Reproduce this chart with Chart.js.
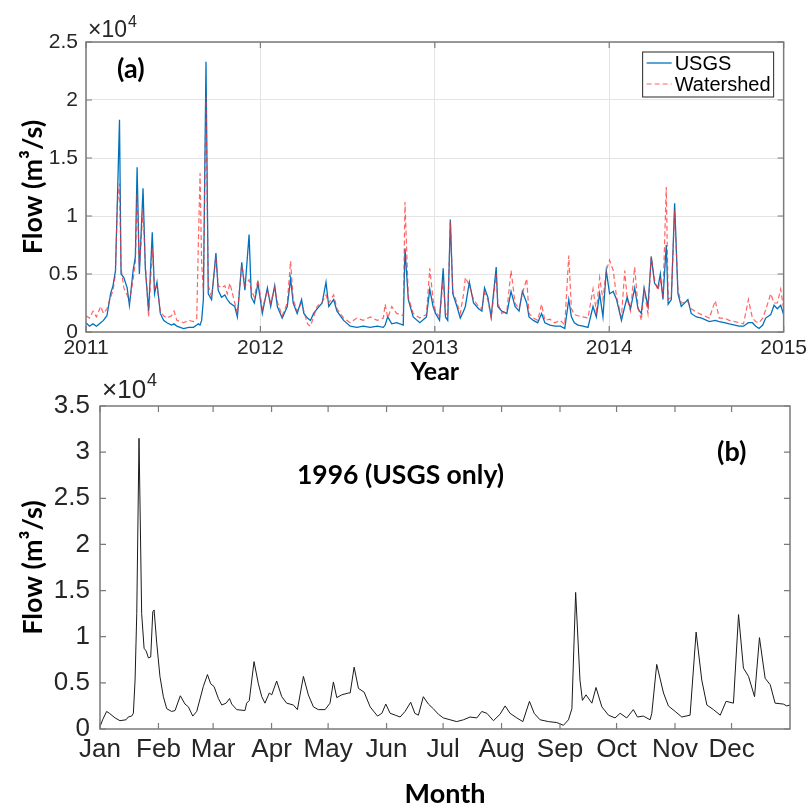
<!DOCTYPE html>
<html>
<head>
<meta charset="utf-8">
<script src="https://cdn.jsdelivr.net/npm/chart.js@4.4.0/dist/chart.umd.min.js"></script>
<style>
  html, body { margin: 0; padding: 0; background: #fff; }
  #wrap { position: relative; width: 811px; height: 810px; }
  canvas { position: absolute; left: 0; }
  #top { top: 0; width: 811px; height: 392px; }
  #bottom { top: 370px; width: 811px; height: 440px; }
</style>
</head>
<body>
<div id="wrap">
  <canvas id="top" width="811" height="392"></canvas>
  <canvas id="bottom" width="811" height="440"></canvas>
</div>
<script>
// ---- panel (a): 2011-2015, decimal year vs flow (m3/s)
var flowDates = [
  2011.000, 2011.020, 2011.040, 2011.060, 2011.084, 2011.100, 2011.120, 2011.141, 2011.155, 2011.169,
  2011.179, 2011.192, 2011.201, 2011.217, 2011.236, 2011.249, 2011.270, 2011.283, 2011.293, 2011.306,
  2011.327, 2011.340, 2011.359, 2011.380, 2011.393, 2011.407, 2011.426, 2011.445, 2011.464, 2011.490,
  2011.505, 2011.521, 2011.540, 2011.559, 2011.590, 2011.616, 2011.635, 2011.644, 2011.654, 2011.663,
  2011.673, 2011.688, 2011.701, 2011.720, 2011.745, 2011.758, 2011.777, 2011.796, 2011.810, 2011.825,
  2011.853, 2011.868, 2011.893, 2011.911, 2011.935, 2011.948, 2011.965, 2011.986,
  2012.011, 2012.040, 2012.059, 2012.082, 2012.097, 2012.125, 2012.154, 2012.173, 2012.188, 2012.211,
  2012.236, 2012.249, 2012.270, 2012.287, 2012.305, 2012.325, 2012.354, 2012.376, 2012.392, 2012.420,
  2012.439, 2012.477, 2012.515, 2012.553, 2012.590, 2012.629, 2012.670, 2012.705, 2012.715, 2012.730,
  2012.753, 2012.781, 2012.819, 2012.829, 2012.848, 2012.876, 2012.914, 2012.952, 2012.971, 2012.990,
  2013.004, 2013.027, 2013.048, 2013.061, 2013.074, 2013.089, 2013.103, 2013.127, 2013.146, 2013.165,
  2013.175, 2013.198, 2013.222, 2013.251, 2013.270, 2013.285, 2013.304, 2013.323, 2013.352, 2013.361,
  2013.384, 2013.413, 2013.437, 2013.460, 2013.483, 2013.502, 2013.527, 2013.540, 2013.565, 2013.590,
  2013.612, 2013.631, 2013.660, 2013.688, 2013.720, 2013.745, 2013.768, 2013.783, 2013.800, 2013.821,
  2013.850, 2013.878, 2013.907, 2013.926, 2013.945, 2013.964, 2013.983,
  2014.002, 2014.023, 2014.042, 2014.070, 2014.089, 2014.103, 2014.122, 2014.146, 2014.165, 2014.184,
  2014.200, 2014.222, 2014.241, 2014.260, 2014.279, 2014.293, 2014.308, 2014.327, 2014.338, 2014.356,
  2014.375, 2014.394, 2014.413, 2014.451, 2014.470, 2014.500, 2014.530, 2014.574, 2014.608, 2014.631,
  2014.660, 2014.688, 2014.720, 2014.745, 2014.770, 2014.798, 2014.821, 2014.840, 2014.859, 2014.880,
  2014.897, 2014.926, 2014.945, 2014.964, 2014.983, 2015.000
];

var usgsFlow = [
  800, 500, 700, 500, 800, 1000, 1400, 3300, 4000, 5300,
  10800, 18300, 5000, 4700, 3800, 2300, 5300, 6500, 14200, 5000,
  12400, 5500, 1800, 8600, 3300, 4300, 1600, 1000, 800, 600,
  700, 500, 400, 300, 400, 400, 600, 700, 600, 1000,
  2800, 23300, 3300, 2800, 6800, 3600, 3000, 3200, 2800, 2500,
  2200, 1300, 6000, 3600, 8400, 3000, 2500, 4200,
  1600, 3800, 2200, 4000, 2200, 1200, 2200, 4600, 2500, 1600,
  2800, 1600, 1200, 1000, 1600, 2000, 2500, 4300, 2200, 2800,
  1800, 1000, 500, 400, 500, 400, 500, 400, 600, 1300,
  700, 800, 600, 7200, 2800, 1300, 800, 1300, 3700, 2200,
  1600, 1000, 5500, 1300, 1000, 9700, 3300, 2200, 1200, 1800,
  2200, 4300, 2500, 2000, 1800, 3800, 3000, 1300, 5600, 2200,
  1800, 1600, 3500, 2200, 1800, 3500, 2500, 1300, 1000, 800,
  1600, 800, 600, 500, 500, 300, 2800, 1300, 800, 600,
  500, 400, 2200, 1300, 3300, 1300, 5300,
  3300, 3500, 2800, 1000, 2200, 3000, 2000, 3800, 2000, 1600,
  3800, 2200, 6500, 4200, 3800, 5000, 2800, 7500, 2400, 2800,
  11100, 3300, 2200, 2800, 1600, 1300, 1200, 900, 1000, 900,
  800, 700, 600, 500, 500, 800, 800, 500, 300, 600,
  1200, 1500, 2300, 2000, 2300, 1500
];

var watershedFlow = [
  1400, 1200, 1800, 1300, 2200, 1600, 2000, 3000, 3600, 5000,
  10800, 12800, 5500, 3800, 3200, 2600, 4500, 6000, 12000, 5500,
  10500, 6000, 1300, 7200, 3600, 4000, 1800, 1400, 1200, 1400,
  1800, 1000, 900, 800, 1000, 900, 1200, 7500, 13700, 6000,
  3500, 20300, 4000, 3000, 6500, 4000, 3800, 4000, 3300, 4200,
  2500, 1600, 5800, 4000, 4500, 3600, 3000, 4500,
  2000, 3600, 2500, 3800, 2600, 1400, 2500, 6100, 2800, 1800,
  2500, 1800, 700, 500, 1300, 2200, 2600, 3200, 2500, 3200,
  2000, 1200, 800, 1200, 1000, 1300, 1000, 1200, 2400, 1200,
  2200, 1600, 1400, 11200, 3000, 1600, 1200, 1500, 5500, 2800,
  1800, 1300, 4500, 1600, 1400, 9500, 3500, 2500, 1600, 3300,
  4700, 4000, 2800, 2200, 2000, 3400, 2800, 1200, 5000, 2500,
  1600, 1800, 5300, 2500, 2000, 3300, 4600, 1600, 1200, 1000,
  2400, 1000, 1100, 800, 1000, 600, 6600, 2000, 1500, 1400,
  1300, 1200, 3700, 1800, 4700, 2800, 5300,
  6200, 5300, 3000, 1300, 5300, 2800, 1800, 5600, 2200, 1000,
  3600, 1600, 6500, 4500, 3600, 4500, 3000, 12500, 2800, 3000,
  10500, 3600, 2500, 2600, 2000, 1700, 1500, 1200, 2700, 1200,
  1200, 1000, 900, 800, 700, 2800, 1200, 900, 800, 1200,
  1900, 3300, 2500, 2500, 3700, 2000
];

// ---- panel (b): 1996, day of year vs flow (m3/s)
var days1996 = [
  0, 1.4, 3.5, 5, 8, 10.6, 13.8, 15, 16.8, 17.7,
  18.6, 19.5, 20.7, 22.1, 23.4, 24.4, 25.7, 26.9, 28, 28.7,
  30.1, 31.8, 33.6, 35.4, 38, 39.8, 42.6, 45.1, 46.9, 49.2,
  51.3, 54.8, 57, 58.7, 60.5, 62.8, 64.6, 66.9, 68.7, 69.9,
  72.5, 76.9, 77.8, 79.2, 81.7, 84, 85.8, 87.5, 89.8, 91.1,
  93.7, 96.4, 99, 102.6, 104.7, 107.9, 110.5, 113.2, 115.8, 119.4,
  122, 123.8, 125.6, 128.2, 131.8, 132.7, 134.8, 137.1, 140.1, 143.3,
  147.2, 149.5, 151.6, 153.9, 156.6, 159.2, 161.8, 164.8, 167, 168.9,
  171.5, 174.2, 176.8, 179.5, 182.1, 185.7, 189.2, 192.8, 196.3, 199.9,
  202.5, 205.2, 208.7, 212.2, 214.9, 217.5, 221.1, 224.3, 227.8, 230.3,
  233.4, 237.9, 242.3, 245.8, 248.5, 250.3, 252.3, 254.6, 255.9, 257.8,
  260.9, 263.1, 266.2, 269.7, 273.2, 275.9, 279.4, 282.9, 285.1, 288.2,
  291.8, 292.7, 295.3, 298.9, 301.5, 305.1, 308.6, 313, 316.2, 319.2,
  321.9, 325.4, 329, 332.1, 336, 338.7, 341.3, 344, 347.2, 349.8,
  352.8, 355.5, 358.1, 362.5, 364.3, 366
];

var flow1996 = [
  250, 1000, 1900, 1700, 1200, 900, 1000, 1300, 1400, 1700,
  5300, 12500, 31500, 12500, 8700, 8500, 7700, 7800, 12700, 12900,
  9300, 5700, 3500, 2200, 1900, 2000, 3600, 2700, 2400, 1400,
  1900, 4600, 5900, 4900, 4600, 3300, 2600, 2800, 3300, 2700,
  2100, 2000, 2800, 3100, 7300, 4900, 3500, 2800, 3900, 3700,
  5200, 3500, 2800, 2600, 2100, 5700, 3700, 2400, 2100, 2100,
  2800, 5100, 3400, 3700, 3900, 3900, 6700, 4400, 4000, 2400,
  1400, 1700, 2700, 1700, 1500, 1300, 1900, 2900, 1700, 1500,
  3500, 2700, 2200, 1600, 1200, 1000, 800, 1000, 1300, 1200,
  1900, 1700, 900, 1600, 2500, 1700, 1200, 800, 3000, 1700,
  1000, 800, 700, 400, 1000, 2200, 14800, 5300, 3100, 3700,
  2800, 4500, 2400, 1500, 1200, 1700, 1200, 2100, 1300, 1400,
  1000, 1700, 7000, 3900, 2500, 1900, 1300, 1500, 10500, 5300,
  2600, 2100, 1500, 3000, 2800, 12400, 6600, 5700, 3500, 9900,
  5500, 4800, 2800, 2700, 2500, 2600
];

var monthStarts = [0, 31, 60, 91, 121, 152, 182, 213, 244, 274, 305, 335];
var monthNames = ["Jan", "Feb", "Mar", "Apr", "May", "Jun", "Jul", "Aug", "Sep", "Oct", "Nov", "Dec"];

var tickFont = "'Liberation Sans', Arial, sans-serif";
var boldFont = "Lato, 'Open Sans', sans-serif";

function toPoints(xs, ys) {
  return xs.map(function (x, i) { return { x: x, y: ys[i] }; });
}

// box, inward ticks and the x10^4 exponent, matlab style
function framePlugin(exp, extra) {
  return {
    id: "frame",
    afterDraw: function (chart) {
      var ctx = chart.ctx, a = chart.chartArea;
      var xs = chart.scales.x, ys = chart.scales.y;
      ctx.save();
      ctx.strokeStyle = "#7a7a7a";
      ctx.lineWidth = 1.5;
      ctx.strokeRect(a.left, a.top, a.right - a.left, a.bottom - a.top);
      ctx.lineWidth = 1.2;
      ctx.beginPath();
      xs.ticks.forEach(function (t) {
        var px = xs.getPixelForValue(t.value);
        ctx.moveTo(px, a.bottom); ctx.lineTo(px, a.bottom - 6);
        ctx.moveTo(px, a.top); ctx.lineTo(px, a.top + 6);
      });
      ys.ticks.forEach(function (t) {
        var py = ys.getPixelForValue(t.value);
        ctx.moveTo(a.left, py); ctx.lineTo(a.left + 6, py);
        ctx.moveTo(a.right, py); ctx.lineTo(a.right - 6, py);
      });
      ctx.stroke();

      ctx.fillStyle = "#262626";
      ctx.textAlign = "left";
      ctx.textBaseline = "alphabetic";
      ctx.font = exp.size + "px " + tickFont;
      ctx.fillText("\u00d710", a.left + 2, a.top - exp.offset);
      var w = ctx.measureText("\u00d710").width;
      ctx.font = Math.round(exp.size * 0.7) + "px " + tickFont;
      ctx.fillText("4", a.left + 3 + w, a.top - exp.offset - exp.size * 0.45);

      extra(chart, ctx, a);
      ctx.restore();
    }
  };
}

function yAxis(max, widthPx, pad, size) {
  return {
    min: 0,
    max: max,
    afterFit: function (s) { s.width = widthPx; },
    ticks: {
      stepSize: 5000,
      padding: pad,
      color: "#262626",
      font: { family: tickFont, size: size },
      callback: function (v) { return String(v / 10000); }
    },
    title: {
      display: true,
      text: "Flow (m\u00b3/s)",
      color: "#000",
      font: { family: boldFont, size: 27, weight: "bold" },
      padding: { top: 9, bottom: 0 }
    }
  };
}

new Chart(document.getElementById("top"), {
  type: "line",
  data: {
    datasets: [
      {
        label: "USGS",
        data: toPoints(flowDates, usgsFlow),
        borderColor: "#0072BD",
        borderWidth: 1.3,
        pointRadius: 0,
        tension: 0,
        order: 2
      },
      {
        label: "Watershed",
        data: toPoints(flowDates, watershedFlow),
        borderColor: "rgba(255,50,50,0.75)",
        borderWidth: 1.2,
        borderDash: [5, 3],
        pointRadius: 0,
        tension: 0,
        order: 1
      }
    ]
  },
  options: {
    responsive: false,
    animation: false,
    devicePixelRatio: 1,
    layout: { padding: { left: 8, top: 42, right: 23, bottom: 0 } },
    plugins: { legend: { display: false }, tooltip: { enabled: false } },
    scales: {
      x: {
        type: "linear",
        min: 2011,
        max: 2015,
        afterFit: function (s) { s.height = 60; },
        grid: { color: "#e4e4e4", drawTicks: false },
        border: { display: false },
        ticks: {
          stepSize: 1,
          padding: 4,
          maxRotation: 0,
          color: "#262626",
          font: { family: tickFont, size: 21 },
          callback: function (v) { return String(v); }
        },
        title: {
          display: true,
          text: "Year",
          color: "#000",
          font: { family: boldFont, size: 25, weight: "bold" },
          padding: { top: 0, bottom: 5 }
        }
      },
      y: Object.assign(yAxis(25000, 78, 8, 21), {
        grid: { color: "#e4e4e4", drawTicks: false },
        border: { display: false }
      })
    }
  },
  plugins: [framePlugin({ size: 23, offset: 5 }, function (chart, ctx, a) {
    ctx.fillStyle = "#000";
    ctx.textBaseline = "middle";
    ctx.font = "bold 27px " + boldFont;
    ctx.fillText("(a)", a.left + 31, a.top + 27);

    // legend box
    var bx = a.right - 141, by = a.top + 10, bw = 131, bh = 45;
    ctx.fillStyle = "#fff";
    ctx.fillRect(bx, by, bw, bh);
    ctx.strokeStyle = "#262626";
    ctx.lineWidth = 1;
    ctx.strokeRect(bx, by, bw, bh);
    chart.data.datasets.forEach(function (d, i) {
      var y = by + 11 + i * 21;
      ctx.strokeStyle = d.borderColor;
      ctx.lineWidth = d.borderWidth;
      ctx.setLineDash(d.borderDash || []);
      ctx.beginPath();
      ctx.moveTo(bx + 4, y);
      ctx.lineTo(bx + 29, y);
      ctx.stroke();
      ctx.setLineDash([]);
      ctx.fillStyle = "#000";
      ctx.font = "20px " + tickFont;
      ctx.fillText(d.label, bx + 32, y + 1);
    });
  })]
});

new Chart(document.getElementById("bottom"), {
  type: "line",
  data: {
    datasets: [
      {
        label: "USGS 1996",
        data: toPoints(days1996, flow1996),
        borderColor: "#1a1a1a",
        borderWidth: 1,
        pointRadius: 0,
        tension: 0
      }
    ]
  },
  options: {
    responsive: false,
    animation: false,
    devicePixelRatio: 1,
    layout: { padding: { left: 8, top: 36, right: 21, bottom: 0 } },
    plugins: { legend: { display: false }, tooltip: { enabled: false } },
    scales: {
      x: {
        type: "linear",
        min: 0,
        max: 366,
        afterFit: function (s) { s.height = 81; },
        afterBuildTicks: function (s) {
          s.ticks = monthStarts.map(function (v) { return { value: v }; });
        },
        grid: { display: false, drawTicks: false },
        border: { display: false },
        ticks: {
          autoSkip: false,
          maxRotation: 0,
          padding: 5,
          color: "#262626",
          font: { family: tickFont, size: 26 },
          callback: function (v) { return monthNames[monthStarts.indexOf(v)]; }
        },
        title: {
          display: true,
          text: "Month",
          color: "#000",
          font: { family: boldFont, size: 27, weight: "bold" },
          padding: { top: 0, bottom: 0 }
        }
      },
      y: Object.assign(yAxis(35000, 92, 10, 26), {
        grid: { display: false, drawTicks: false },
        border: { display: false }
      })
    }
  },
  plugins: [framePlugin({ size: 26, offset: 8 }, function (chart, ctx, a) {
    ctx.fillStyle = "#000";
    ctx.textBaseline = "middle";
    ctx.font = "bold 26.5px " + boldFont;
    ctx.fillText("1996 (USGS only)", a.left + 197, a.top + 69);
    ctx.font = "bold 27px " + boldFont;
    ctx.fillText("(b)", a.left + 617, a.top + 46);
  })]
});
</script>
</body>
</html>
